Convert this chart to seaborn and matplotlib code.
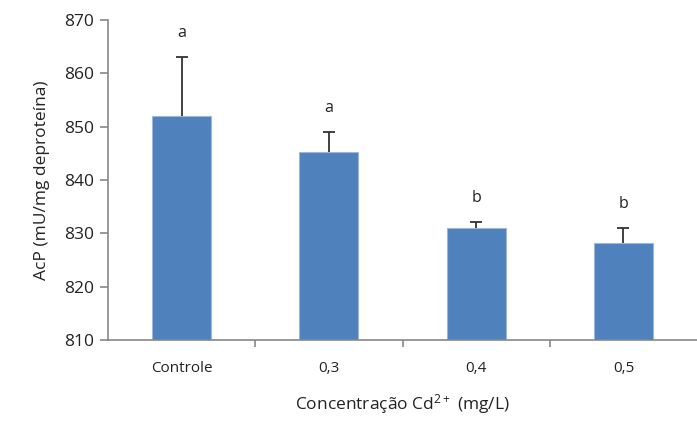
import matplotlib
matplotlib.use("Agg")
import matplotlib.pyplot as plt
import seaborn as sns
import pandas as pd
from matplotlib.ticker import FixedLocator

# Data
categories = ["Controle", "0,3", "0,4", "0,5"]
means = [852, 845.2, 831, 828.2]
errors = [11, 3.8, 1.2, 2.8]
letters = ["a", "a", "b", "b"]

sns.set_theme(style="white")
plt.rcParams['font.family'] = ['Open Sans', 'DejaVu Sans']
plt.rcParams['mathtext.default'] = 'regular'

df = pd.DataFrame({"grupo": categories, "acp": means})

fig = plt.figure(figsize=(6.97, 4.23), dpi=100)
ax = fig.add_axes([0.155, 0.196, 0.845, 0.757])

sns.barplot(data=df, x="grupo", y="acp", color="#4F81BD", width=0.4,
            edgecolor="#9DB7D9", linewidth=0.8, saturation=1, ax=ax)

# upper error bars only (stem + top cap)
xs = list(range(len(categories)))
tops = [m + e for m, e in zip(means, errors)]
ax.vlines(xs, means, tops, color="#333333", linewidth=1.3, zorder=3)
ax.hlines(tops, [x - 0.04 for x in xs], [x + 0.04 for x in xs],
          color="#333333", linewidth=1.3, zorder=3)

for x, t, lab in zip(xs, tops, letters):
    ax.text(x, t + 3, lab, ha="center", va="bottom", fontsize=11.5, color="#222222")

ax.set_ylim(810, 870)
ax.set_yticks(range(810, 871, 10))
ax.set_xlim(-0.5, 3.5)

for s in ["top", "right"]:
    ax.spines[s].set_visible(False)
for s in ["left", "bottom"]:
    ax.spines[s].set_color("#888888")
    ax.spines[s].set_linewidth(1.2)

ax.tick_params(axis="y", which="major", direction="out", length=6, width=1.2,
               color="#888888", labelsize=12.5, pad=4, left=True, labelcolor="#222222")
ax.tick_params(axis="x", which="major", length=0, labelsize=11, pad=15, labelcolor="#222222")
ax.xaxis.set_minor_locator(FixedLocator([0.5, 1.5, 2.5]))
ax.tick_params(axis="x", which="minor", direction="out", length=5, width=1.2,
               color="#888888", bottom=True)

ax.set_xlabel("Concentração Cd$^{2+}$ (mg/L)", fontsize=12.5, labelpad=12, color="#222222")
ax.set_ylabel("AcP (mU/mg deproteína)", fontsize=12.5, labelpad=10, color="#222222")

fig.savefig("out.png", dpi=100)
